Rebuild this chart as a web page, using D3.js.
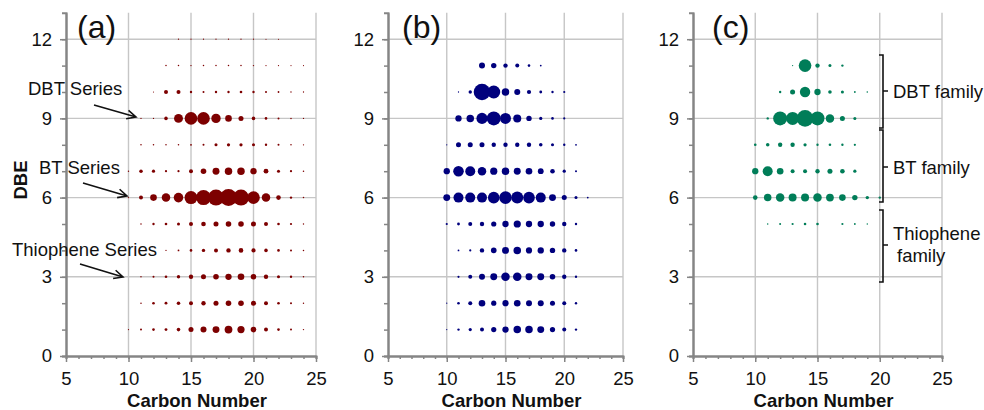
<!DOCTYPE html>
<html>
<head>
<meta charset="utf-8">
<script src="https://cdn.jsdelivr.net/npm/d3@7"></script>
<style>
  html, body { margin: 0; padding: 0; background: #fff; }
  svg { display: block; font-family: "Liberation Sans", Arial, Helvetica, sans-serif; }
</style>
</head>
<body>
<svg id="chart" width="984" height="410"></svg>
<script>
// ---------------- DATA ----------------
// Each row: [DBE, first carbon number, relative abundances for consecutive carbon numbers...]
const rowsA = [
  [12, 14, 0.4, 0.4, 0.4, 0.4, 0.4, 0.4, 0.4, 0.3, 0.3],
  [11, 13, 0.6, 0.6, 0.5, 0.6, 0.6, 0.6, 0.6, 0.5, 0.4, 0.4, 0.3, 0.3],
  [10, 12, 0.3, 4, 4, 1.4, 1, 1.4, 1.4, 1.7, 1.4, 1, 0.8, 0.5, 0.4],
  [9, 11, 0.4, 0.4, 3.2, 20, 40, 40, 22, 11, 6.3, 3.2, 1.7, 1, 0.6, 0.4],
  [8, 11, 0.6, 0.6, 0.6, 0.6, 0.8, 1, 2.3, 2.6, 2.6, 2.3, 1.4, 1, 0.6, 0.4],
  [7, 10, 0.5, 3.2, 2.6, 1.2, 1.2, 4, 7.8, 12, 14, 14, 10, 5.8, 2.3, 1.2, 0.6],
  [6, 10, 0.5, 4, 11, 18, 23, 42, 56, 64, 72, 64, 40, 18, 5.3, 1.4, 0.6],
  [5, 11, 0.6, 1.4, 1.7, 2.3, 4, 5.3, 6.3, 7.8, 7.8, 6.3, 4, 1.7, 1.2, 0.5],
  [4, 13, 0.4, 0.8, 1.7, 2.9, 4, 4.8, 5.3, 4.4, 3.2, 1.7, 1, 0.6],
  [3, 11, 0.5, 1, 1.7, 2.9, 4.8, 6.3, 7.8, 10, 11, 7.8, 4.8, 2.3, 1.4, 0.6],
  [2, 11, 0.6, 1.7, 2, 3.2, 4, 4.8, 6.3, 7.8, 7.8, 6.3, 4, 1.7, 1, 0.5],
  [1, 10, 0.4, 1, 1.7, 2, 3.2, 6.3, 9, 12, 15, 13, 7.8, 4, 1.7, 1, 0.5]
];
const rowsB = [
  [11, 13, 9, 7.3, 4.8, 4, 1.7, 0.8],
  [10, 11, 0.4, 2.9, 69, 42, 14, 9, 4.4, 2, 1.4, 1.2],
  [9, 11, 10, 14, 31, 49, 30, 16, 7.3, 2.6, 1.7, 1.2],
  [8, 10, 0.4, 6.3, 6.3, 6.3, 4.8, 4.8, 4.8, 4.8, 3.2, 2.3, 1.4, 0.8],
  [7, 10, 10, 28, 25, 18, 13, 14, 12, 11, 8.4, 5.3, 2.6, 1],
  [6, 10, 12, 25, 25, 25, 34, 40, 36, 34, 25, 12, 6.3, 2.3, 0.8],
  [5, 10, 1.2, 2, 4, 4.8, 6.8, 10, 13, 10, 10, 7.3, 4.8, 1.4],
  [4, 11, 0.8, 1.2, 4.8, 7.8, 12, 14, 9.6, 10, 7.3, 4.8, 1.7],
  [3, 11, 1.2, 4, 9, 12, 18, 18, 12, 12, 7.8, 4.8, 1.4],
  [2, 10, 0.4, 1.7, 4, 11, 6.8, 9.6, 11, 9, 9, 6.3, 4, 1.4],
  [1, 10, 0.4, 1.4, 2.6, 4, 6.8, 10, 14, 14, 12, 6.8, 4, 1.4]
];
const rowsC = [
  [11, 13, 0.4, 40, 4.8, 2.3, 1.4],
  [10, 12, 1.4, 6.3, 27, 10, 3.2, 2.3, 0.8, 0.6],
  [9, 11, 1.4, 49, 42, 69, 49, 18, 6.3, 2.3],
  [8, 10, 1.7, 3.2, 4.8, 4.8, 2.6, 1.4, 1.7, 1.4, 1.2],
  [7, 10, 10, 25, 11, 4, 4, 4.8, 6.3, 5.3, 2.6],
  [6, 10, 5.3, 14, 18, 16, 16, 18, 15, 11, 7.3, 2.9, 1.4],
  [5, 11, 0.6, 1, 1.2, 1.7, 1.7, 0, 1.2, 0.8, 0.5]
];
const xTicks = [5, 10, 15, 20, 25];
const yTicks = [0, 3, 6, 9, 12];
const panelLabels = ["(a)", "(b)", "(c)"];
const xTitle = "Carbon Number";
const yTitle = "DBE";
const seriesLabelsA = ["DBT Series", "BT Series", "Thiophene Series"];
const familyLabelsC = ["DBT family", "BT family", "Thiophene", "family"];

// ---------------- LAYOUT ----------------
const svg = d3.select("#chart");
const yScale = d3.scaleLinear().domain([0, 13]).range([356, 12.8]);
const rScale = d3.scaleSqrt().domain([0, 100]).range([0, 10]);

const panels = [
  { rows: rowsA, left: 66, right: 316, color: "#7d0000", label: panelLabels[0], lx: 77 },
  { rows: rowsB, left: 388, right: 623, color: "#00007d", label: panelLabels[1], lx: 402 },
  { rows: rowsC, left: 693, right: 942, color: "#007d58", label: panelLabels[2], lx: 712 }
];

const gridColor = "#c6c6c6";
const axisColor = "#858585";
const fontSize = 18.5;

panels.forEach(p => {
  const x = d3.scaleLinear().domain([5, 25]).range([p.left, p.right]);
  const g = svg.append("g");

  // grid
  g.selectAll(".hg").data(yTicks.filter(d => d > 0)).enter().append("line")
    .attr("x1", p.left).attr("x2", p.right)
    .attr("y1", d => yScale(d)).attr("y2", d => yScale(d))
    .attr("stroke", gridColor).attr("stroke-width", 1.4);
  g.selectAll(".vg").data(xTicks.filter(d => d > 5)).enter().append("line")
    .attr("x1", d => x(d)).attr("x2", d => x(d))
    .attr("y1", yScale(0)).attr("y2", yScale(13))
    .attr("stroke", gridColor).attr("stroke-width", 1.4);

  // minor ticks
  const yMinor = d3.axisLeft(yScale).tickValues(d3.range(0, 13, 1)).tickSize(4).tickFormat("");
  const xMinor = d3.axisBottom(x).tickValues(d3.range(5, 26, 1)).tickSize(3).tickFormat("");
  const gym = g.append("g").attr("transform", `translate(${p.left},0)`).call(yMinor);
  const gxm = g.append("g").attr("transform", `translate(0,${yScale(0)})`).call(xMinor);

  // major axes
  const yAxis = d3.axisLeft(yScale).tickValues(yTicks).tickSize(6).tickPadding(8).tickSizeOuter(0);
  const xAxis = d3.axisBottom(x).tickValues(xTicks).tickSize(6).tickSizeOuter(0);
  const gy = g.append("g").attr("transform", `translate(${p.left},0)`).call(yAxis);
  const gx = g.append("g").attr("transform", `translate(0,${yScale(0)})`).call(xAxis);

  [gym, gxm, gy, gx].forEach(a => {
    a.select(".domain").attr("stroke", axisColor).attr("stroke-width", 2);
    a.selectAll(".tick line").attr("stroke", axisColor).attr("stroke-width", 1.5);
  });
  gy.selectAll("text").attr("font-size", fontSize).attr("fill", "#111")
    .attr("font-family", "Liberation Sans, Arial, sans-serif");
  gx.selectAll("text").attr("font-size", fontSize).attr("fill", "#111")
    .attr("font-family", "Liberation Sans, Arial, sans-serif")
    .attr("dy", 0).attr("y", 29);

  // bubbles
  const pts = [];
  p.rows.forEach(row => {
    const dbe = row[0], c0 = row[1];
    row.slice(2).forEach((v, i) => { if (v > 0) pts.push({ dbe, c: c0 + i, v }); });
  });
  g.selectAll("circle").data(pts).enter().append("circle")
    .attr("cx", d => x(d.c)).attr("cy", d => yScale(d.dbe))
    .attr("r", d => rScale(d.v))
    .attr("fill", p.color);

  // titles
  g.append("text").attr("x", (p.left + p.right) / 2 + 6).attr("y", 407)
    .attr("text-anchor", "middle").attr("font-weight", "bold")
    .attr("font-size", fontSize).attr("fill", "#111").text(xTitle);
  g.append("text").attr("x", p.lx).attr("y", 38)
    .attr("font-size", 32).attr("fill", "#111").text(p.label);
  p.x = x;
});

// y title
svg.append("text").attr("transform", "translate(27,180) rotate(-90)")
  .attr("text-anchor", "middle").attr("font-weight", "bold")
  .attr("font-size", fontSize).attr("fill", "#111").text(yTitle);

// annotations panel (a)
function arrow(x1, y1, x2, y2) {
  const ang = Math.atan2(y2 - y1, x2 - x1);
  const L = 10, spread = 0.45;
  const a1 = [x2 - L * Math.cos(ang - spread), y2 - L * Math.sin(ang - spread)];
  const a2 = [x2 - L * Math.cos(ang + spread), y2 - L * Math.sin(ang + spread)];
  svg.append("path")
    .attr("d", `M${x1},${y1}L${x2},${y2}M${a1[0]},${a1[1]}L${x2},${y2}L${a2[0]},${a2[1]}`)
    .attr("fill", "none").attr("stroke", "#111").attr("stroke-width", 1.6);
}
const annA = [
  { t: seriesLabelsA[0], tx: 28, ty: 95, a: [94, 105, 136, 117] },
  { t: seriesLabelsA[1], tx: 39, ty: 174, a: [83, 183, 127, 196] },
  { t: seriesLabelsA[2], tx: 12, ty: 256, a: [80, 264, 123, 277] }
];
annA.forEach(d => {
  svg.append("text").attr("x", d.tx).attr("y", d.ty).attr("font-size", fontSize)
    .attr("fill", "#111").text(d.t);
  arrow(...d.a);
});

// brackets panel (c)
const brackets = [
  { y1: 55, y2: 128, ym: 91, lines: [[familyLabelsC[0], 893, 98]] },
  { y1: 130, y2: 202, ym: 167, lines: [[familyLabelsC[1], 893, 174]] },
  { y1: 210, y2: 282, ym: 245, lines: [[familyLabelsC[2], 893, 240], [familyLabelsC[3], 897, 262]] }
];
brackets.forEach(b => {
  const bx = 883;
  svg.append("path")
    .attr("d", `M${bx - 4},${b.y1}L${bx},${b.y1}L${bx},${b.y2}L${bx - 4},${b.y2}M${bx},${b.ym}L${bx + 5},${b.ym}`)
    .attr("fill", "none").attr("stroke", "#111").attr("stroke-width", 1.6);
  b.lines.forEach(l => {
    svg.append("text").attr("x", l[1]).attr("y", l[2]).attr("font-size", fontSize)
      .attr("fill", "#111").text(l[0]);
  });
});
</script>
</body>
</html>
